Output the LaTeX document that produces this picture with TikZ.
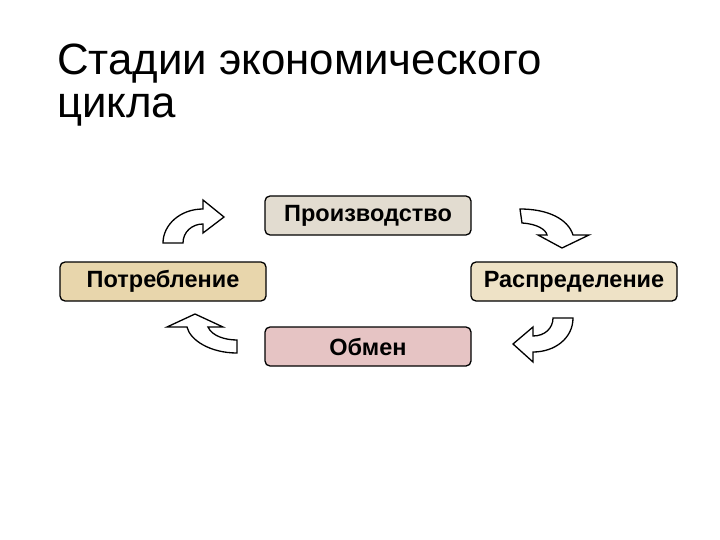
\documentclass[tikz,border=0pt]{standalone}
\usepackage{fontspec}
\setmainfont{Liberation Sans}
\begin{document}
\begin{tikzpicture}[x=1pt,y=-1pt,
  stagebox/.style={draw=black, line width=1.3pt, rounded corners=5pt,
    minimum width=206pt, minimum height=39pt, inner sep=0pt,
    font=\fontsize{23.5}{28}\selectfont\bfseries},
  blockarrow/.style={draw=black, line width=1.3pt, fill=white, line join=miter},
  titletext/.style={anchor=base west, inner sep=0pt, font=\fontsize{43.8}{52}\selectfont}]
\useasboundingbox (0,0) rectangle (720,540);
\fill[white] (0,0) rectangle (720,540);

\node[titletext] (t1) at (57,75) {Стадии экономического};
\node[titletext] (t2) at (57,118) {цикла};

\definecolor{prodc}{HTML}{E2DCD0}
\definecolor{potrc}{HTML}{E8D6AC}
\definecolor{raspc}{HTML}{EEE2C6}
\definecolor{obmc}{HTML}{E6C4C4}

\node[stagebox, fill=prodc] (prod) at (368,215.5) {Производство};
\node[stagebox, fill=potrc] (potr) at (163,281.5) {Потребление};
\node[stagebox, fill=raspc] (rasp) at (574,281.5) {Распределение};
\node[stagebox, fill=obmc] (obm) at (368,346.5) {Обмен};

% top-left arrow
\draw[blockarrow] (163,243) -- (183,243) .. controls (183,232) and (192,224) .. (203,224)
  -- (203,233) -- (224,217) -- (203,200) -- (203,209)
  .. controls (180,209) and (163,225) .. (163,243) -- cycle;
% top-right arrow
\draw[blockarrow] (520,209) -- (522,223) .. controls (538,224) and (546,230) .. (547,235)
  -- (538,235) -- (562,248) -- (589,235) -- (573,235)
  .. controls (568,219) and (548,209) .. (520,209) -- cycle;
% bottom-right arrow
\draw[blockarrow] (553,318) -- (573,318) .. controls (573,338) and (555,352) .. (533,352)
  -- (533,362) -- (513,344) -- (533,327) -- (533,336)
  .. controls (545,336) and (553,328) .. (553,318) -- cycle;
% bottom-left arrow
\draw[blockarrow] (237,340) -- (237,353) .. controls (210,353) and (190,340) .. (187,327)
  -- (167,327) -- (195,314) -- (223,327) -- (208,327)
  .. controls (212,336) and (225,340) .. (237,340) -- cycle;
\end{tikzpicture}
\end{document}
